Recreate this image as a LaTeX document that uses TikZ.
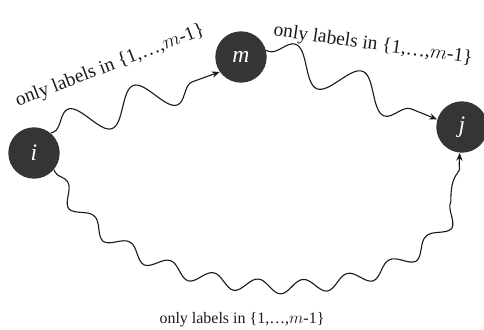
\documentclass[tikz,border=0pt]{standalone}
\usepackage{fontspec}
\setmainfont{Liberation Serif}
\usepackage{xcolor}
\usetikzlibrary{arrows.meta,decorations.pathmorphing}
\definecolor{ballc}{HTML}{353535}
\definecolor{inkc}{HTML}{1A1A1A}
\tikzset{
  vx/.style={circle,fill=ballc,text=white,minimum size=37pt,inner sep=0pt,font=\fontsize{17}{20}\selectfont\itshape},
  wig/.style={-{Stealth[length=2mm,width=1.6mm]},thick,inkc,decorate,
    decoration={snake,segment length=#1,amplitude=12pt,pre length=2pt,post length=3mm}},
  wig/.default=50pt,
  lbl/.style={font=\fontsize{14}{16}\selectfont,inkc},
  lblb/.style={font=\fontsize{11.5}{14}\selectfont,inkc}
}
\begin{document}
\begin{tikzpicture}[x=0.72pt,y=-0.72pt]
\useasboundingbox (0,0) rectangle (484,330);
\node[vx] (i) at (34,153) {i};
\node[vx] (m) at (241,57) {m};
\node[vx] (j) at (462,127) {j};
\draw[wig=50pt] (i.50) -- (m.215);
\draw[wig=52pt] (m.15) -- (j.163);
\draw[wig=33pt,decoration={amplitude=5pt}] (i.-40) .. controls (120,310) and (460,320) .. (j.265);
\node[lbl,rotate=21] (ta) at (110,66) {only labels in \{1,\dots,$m$-1\}};
\node[lbl,rotate=-8] (tb) at (373,45) {only labels in \{1,\dots,$m$-1\}};
\node[lblb] (tc) at (242,320) {only labels in \{1,\dots,$m$-1\}};
\end{tikzpicture}
\end{document}
